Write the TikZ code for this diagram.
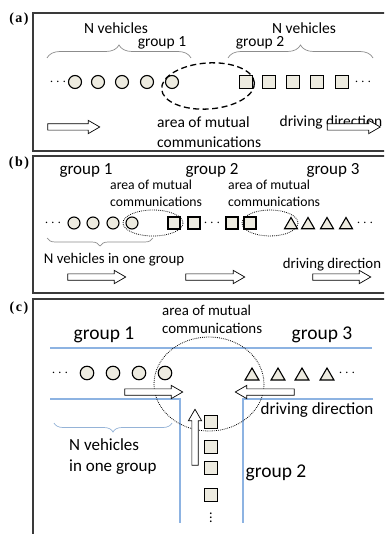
\documentclass[tikz,border=0pt]{standalone}
\usepackage{fontspec}
\setmainfont{Carlito}
\newfontfamily\panelfont{Liberation Serif}
\usepackage{xcolor}
\usepackage{tikz}
\usetikzlibrary{shapes.geometric,shapes.arrows,decorations.pathreplacing}
\definecolor{vehfill}{HTML}{EDEBE0}
\definecolor{framegray}{HTML}{3A3A3A}
\definecolor{bracegray}{HTML}{8C8C8C}
\definecolor{braceblue}{HTML}{95B3D7}
\definecolor{roadblue}{HTML}{8DB3E2}
\tikzset{
  % --- panel frames and their letters ---
  panel/.style={draw=framegray, line width=1.3pt},
  panellabel/.style={font=\panelfont\bfseries\fontsize{14}{14}\selectfont, inner sep=0pt},
  % --- vehicles ---
  car/.style={circle, draw=black, fill=vehfill, line width=1.1pt,
              minimum size=13pt, inner sep=0pt},
  truck/.style={rectangle, draw=black, fill=vehfill, line width=1.1pt,
                minimum size=13pt, inner sep=0pt},
  tri/.style={regular polygon, regular polygon sides=3, draw=black,
              fill=vehfill, line width=1.1pt, minimum size=16pt, inner sep=0pt},
  small/.style={minimum size=12pt},
  more/.style={inner sep=0pt, font=\fontsize{14}{14}\selectfont},
  % --- hollow driving-direction arrows ---
  dirarrow/.style={single arrow, draw=black, fill=white, line width=0.7pt,
                   inner sep=2.8pt, text height=0pt, text depth=0pt,
                   single arrow head extend=3.5pt, single arrow tip angle=60},
  % --- communication areas and braces ---
  dashedarea/.style={draw=black, line width=1.3pt, dash pattern=on 6pt off 3.5pt},
  dottedarea/.style={draw=black, line width=0.8pt, dash pattern=on 0.8pt off 1.1pt},
  grpbrace/.style={decorate, decoration={brace, amplitude=#1}, line width=0.7pt},
  road/.style={draw=roadblue, line width=1.2pt},
  % --- texts ---
  txta/.style={inner sep=0pt, font=\fontsize{15.5}{20}\selectfont},
  txtb/.style={inner sep=0pt, font=\fontsize{14.8}{17}\selectfont},
  areab/.style={inner sep=0pt, align=left, font=\fontsize{13.7}{17}\selectfont},
  grpb/.style={inner sep=0pt, font=\fontsize{17}{17}\selectfont},
  txtc/.style={inner sep=0pt, font=\fontsize{17}{21}\selectfont},
  areac/.style={inner sep=0pt, align=left, font=\fontsize{14.9}{18}\selectfont},
  grpc/.style={inner sep=0pt, font=\fontsize{19.5}{19.5}\selectfont},
}

\begin{document}
\begin{tikzpicture}[x=1pt, y=-1pt]
  \clip (0,0) rectangle (384,534);

  % ================= (a) two groups on one lane =================
  \draw[panel] (33,13) rectangle (400,151);
  \node[panellabel] (la) at (19,19) {(\kern1.5pt a\kern1.5pt)};
  \node[txta] (aN1) at (116,28) {N vehicles};
  \node[txta] (ag1) at (162,43) {group 1};
  \node[txta] (aN2) at (304,28) {N vehicles};
  \node[txta] (ag2) at (260,43) {group 2};
  \draw[grpbrace=13pt, draw=bracegray] (47,58) -- (191,58);
  \draw[grpbrace=13pt, draw=bracegray] (228,58) -- (373,58);

  \node[more] (adots1) at (58,82) {$\cdots$};
  \foreach \x [count=\i] in {75,98,122,147,172}
    \node[car] (acar\i) at (\x,82) {};
  \foreach \x [count=\i] in {246,269,293,317,342}
    \node[truck] (atruck\i) at (\x,82) {};
  \node[more] (adots2) at (363,82) {$\cdots$};
  \draw[dashedarea, rotate around={4:(208,86)}] (208,86) ellipse [x radius=46.5, y radius=23];

  \node[txta, align=left, anchor=west] (aarea) at (157,132) {area of mutual\\communications};
  \node[txta] (adrive) at (331,122) {driving direction};
  \node[dirarrow, minimum height=52pt] (aarr1) at (71,127) {};
  \node[dirarrow, minimum height=53pt] (aarr2) at (351,127) {};

  % ================= (b) three groups on one lane =================
  \draw[panel] (33,156) rectangle (400,293);
  \node[panellabel] (lb) at (19,163) {(\kern1.5pt b\kern1.5pt)};
  \node[grpb] (bg1) at (86,170) {group 1};
  \node[grpb] (bg2) at (212,170) {group 2};
  \node[grpb] (bg3) at (333,170) {group 3};
  \node[areab, anchor=west] (barea1) at (110,193) {area of mutual\\communications};
  \node[areab, anchor=west] (barea2) at (228,193) {area of mutual\\communications};

  \node[more] (bdots1) at (53,223) {$\cdots$};
  \foreach \x [count=\i] in {74,93,113,132}
    \node[car, small] (bcar\i) at (\x,223) {};
  \node[truck, small] (btruck1) at (174,223) {};
  \node[truck, small] (btruck2) at (194,223) {};
  \node[more] (bdots2) at (212,223) {$\cdots$};
  \node[truck, small] (btruck3) at (232,223) {};
  \node[truck, small] (btruck4) at (250,223) {};
  \foreach \x [count=\i] in {291,308,327,346}
    \node[tri, minimum size=15pt] (btri\i) at (\x,225) {};
  \node[more] (bdots3) at (365,223) {$\cdots$};
  \draw[dottedarea] (153,223) ellipse [x radius=30, y radius=13];
  \draw[dottedarea] (270,223) ellipse [x radius=28, y radius=13];

  \draw[grpbrace=8pt, draw=bracegray] (153,238) -- (47,238);
  \node[txtb] (bN) at (114,260) {N vehicles in one group};
  \node[txtb] (bdrive) at (332,265) {driving direction};
  \node[dirarrow, minimum height=58pt] (barr1) at (94,277) {};
  \node[dirarrow, minimum height=59pt] (barr2) at (212.5,277) {};
  \node[dirarrow, minimum height=58pt] (barr3) at (339,277) {};

  % ================= (c) three groups at a junction =================
  \draw[panel] (33,299) rectangle (400,545);
  \node[panellabel] (lc) at (19,308) {(\kern1.5pt c\kern1.5pt)};
  \node[areac, anchor=west] (carea) at (162,319) {area of mutual\\communications};
  \node[grpc] (cg1) at (104,335) {group 1};
  \node[grpc] (cg3) at (322,335) {group 3};

  \draw[road] (50,348) -- (372,348);
  \draw[road] (50,399) -- (180,399) -- (180,523);
  \draw[road] (373,399) -- (243,399) -- (243,523);

  \node[more] (cdots1) at (60,373) {$\cdots$};
  \foreach \x [count=\i] in {87,113,139,165}
    \node[car, minimum size=13.5pt] (ccar\i) at (\x,373) {};
  \foreach \x [count=\i] in {252,278,302,327}
    \node[tri] (ctri\i) at (\x,376) {};
  \node[more] (cdots2) at (347,373) {$\cdots$};
  \foreach \y [count=\i] in {422,447,468,495}
    \node[truck] (ctruck\i) at (211,\y) {};
  \node[more] (cdots3) at (211,515) {$\vdots$};
  \draw[dottedarea] (209,384) ellipse [x radius=55, y radius=47];

  \node[dirarrow, minimum height=58pt] (carr1) at (151,392) {};
  \node[dirarrow, minimum height=59pt, rotate=180] (carr2) at (267.5,392) {};
  \node[dirarrow, minimum height=56pt, rotate=90] (carr3) at (195,440) {};
  \node[txtc] (cdrive) at (317,410) {driving direction};

  \draw[grpbrace=9pt, draw=braceblue] (172,423) -- (54,423);
  \node[txtc, align=left, anchor=west] (cN) at (69,457) {N vehicles\\in one group};
  \node[grpc] (cg2) at (276,473) {group 2};
\end{tikzpicture}
\end{document}
